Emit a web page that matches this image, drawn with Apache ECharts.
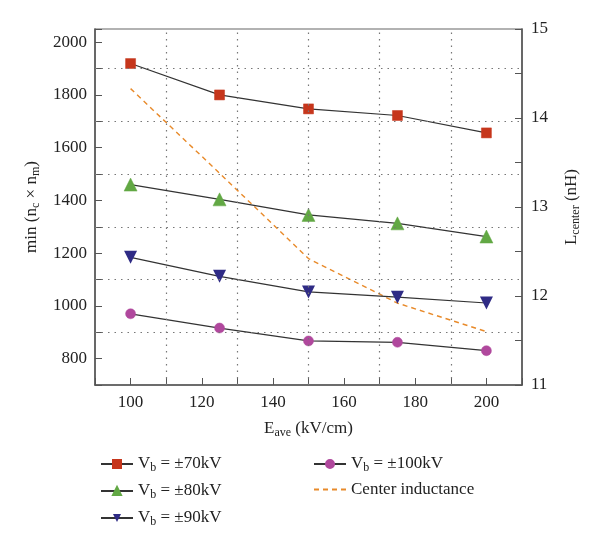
<!DOCTYPE html>
<html><head><meta charset="utf-8">
<script src="https://cdn.jsdelivr.net/npm/echarts@6/dist/echarts.min.js"></script>
<style>html,body{margin:0;padding:0;background:#fff}#c{width:600px;height:549px}</style>
</head><body><div id="c"></div>
<script>
var eField = [100, 125, 150, 175, 200];
var vb70 = [1919, 1800, 1747, 1722, 1656];
var vb80 = [1460, 1404, 1345, 1313, 1263];
var vb90 = [1184, 1112, 1053, 1033, 1011];
var vb100 = [970, 916, 867, 862, 830];
var centerL = [14.33, 13.38, 12.42, 11.92, 11.60];
var xTickLabels = [100, 120, 140, 160, 180, 200];
var yTickLabels = [800, 1000, 1200, 1400, 1600, 1800, 2000];
var xGridLines = [110, 130, 150, 170, 190];
var yGridLines = [900, 1100, 1300, 1500, 1700, 1900];

var F = '"Liberation Serif", "DejaVu Serif", serif';
var TXT = '#222';
function pairs(ys){ return eField.map(function(x,i){ return [x, ys[i]]; }); }
var rich = {
  n: {fontFamily: F, fontSize: 17, color: TXT, lineHeight: 22},
  s: {fontFamily: F, fontSize: 12, color: TXT, lineHeight: 22, padding: [8,0,0,0]}
};
var names = ['Vb70','Vb80','Vb90','Vb100','Center inductance'];
var labels = {
  'Vb70': '{n|V}{s|b}{n| = ±70kV}',
  'Vb80': '{n|V}{s|b}{n| = ±80kV}',
  'Vb90': '{n|V}{s|b}{n| = ±90kV}',
  'Vb100': '{n|V}{s|b}{n| = ±100kV}',
  'Center inductance': '{n|Center inductance}'
};
var lineCol = '#333';
function mk(name, data, symbol, color, size){
  return {name: name, type: 'line', data: pairs(data), symbol: symbol, symbolSize: size,
    z: 3, lineStyle: {color: lineCol, width: 1.2}, itemStyle: {color: color, borderColor: color, borderWidth: 0.5},
    emphasis: {disabled: true}};
}
function only(list){ return function(v){ return list.indexOf(v) >= 0 ? String(v) : ''; }; }
var gridData = xGridLines.map(function(v){ return {xAxis: v}; })
  .concat(yGridLines.map(function(v){ return {yAxis: v}; }));

var chart = echarts.init(document.getElementById('c'));
chart.setOption({
  animation: false,
  backgroundColor: '#fff',
  grid: {left: 95, right: 78, top: 29, bottom: 164, show: true, borderColor: '#666', borderWidth: 1.2},
  xAxis: {
    type: 'value', min: 90, max: 210, interval: 10,
    name: '{n|E}{s|ave}{n| (kV/cm)}', nameLocation: 'middle', nameGap: 33,
    nameTextStyle: {rich: rich},
    axisLine: {lineStyle: {color: '#555', width: 1.5}},
    axisTick: {inside: true, length: 7, lineStyle: {color: '#555'}},
    axisLabel: {fontFamily: F, fontSize: 17, color: TXT, margin: 9, formatter: only(xTickLabels)},
    splitLine: {show: false}
  },
  yAxis: [{
    type: 'value', min: 700, max: 2050, interval: 100, position: 'left',
    name: '{n|min (n}{s|c}{n| × n}{s|m}{n|)}', nameLocation: 'middle', nameGap: 52, nameRotate: 90,
    nameTextStyle: {rich: rich},
    axisLine: {show: true, lineStyle: {color: '#555', width: 1.5}},
    axisTick: {inside: true, length: 7, lineStyle: {color: '#555'}},
    axisLabel: {fontFamily: F, fontSize: 17, color: TXT, margin: 8, formatter: only(yTickLabels)},
    splitLine: {show: false}
  }, {
    type: 'value', min: 11, max: 15, interval: 1, position: 'right',
    name: '{n|L}{s|center}{n| (nH)}', nameLocation: 'middle', nameGap: 39, nameRotate: 90,
    nameTextStyle: {rich: rich},
    axisLine: {show: true, lineStyle: {color: '#555', width: 1.5}},
    axisTick: {inside: true, length: 7, lineStyle: {color: '#555'}},
    minorTick: {show: true, splitNumber: 2, length: 7, lineStyle: {color: '#555'}},
    axisLabel: {fontFamily: F, fontSize: 17, color: TXT, margin: 9, formatter: function(v){ return String(v); }},
    splitLine: {show: false}
  }],
  legend: [{
    data: names.slice(0,3), orient: 'vertical', left: 95, top: 449, height: 100,
    itemWidth: 32, itemHeight: 10, itemGap: 7,
    formatter: function(n){ return labels[n]; },
    textStyle: {rich: rich}
  }, {
    data: [names[3], {name: names[4], itemStyle: {color: 'transparent', borderColor: 'transparent', borderWidth: 0}}],
    orient: 'vertical', left: 308, top: 449, height: 100,
    itemWidth: 32, itemHeight: 10, itemGap: 7,
    formatter: function(n){ return labels[n]; },
    textStyle: {rich: rich}
  }],
  series: [
    {type: 'line', data: [], z: 1, silent: true,
     markLine: {silent: true, symbol: ['none','none'], label: {show: false}, animation: false,
       lineStyle: {type: [1.5, 5], color: '#777', width: 1.2}, emphasis: {disabled: true}, data: gridData}},
    mk('Vb70', vb70, 'rect', '#C6361C', 10),
    mk('Vb80', vb80, 'triangle', '#62A844', 13),
    {name: 'Vb90', type: 'line', data: pairs(vb90), symbol: 'triangle', symbolRotate: 180, symbolSize: 13, z: 3,
     lineStyle: {color: lineCol, width: 1.2}, itemStyle: {color: '#2F2B85'}, emphasis: {disabled: true}},
    mk('Vb100', vb100, 'circle', '#B0489D', 10),
    {name: 'Center inductance', type: 'line', yAxisIndex: 1, data: pairs(centerL), symbol: 'none', z: 2,
     lineStyle: {color: '#E88A2A', width: 1.4, type: [5, 4]}, itemStyle: {color: '#E88A2A'}, emphasis: {disabled: true}}
  ]
});
</script>
</body></html>
